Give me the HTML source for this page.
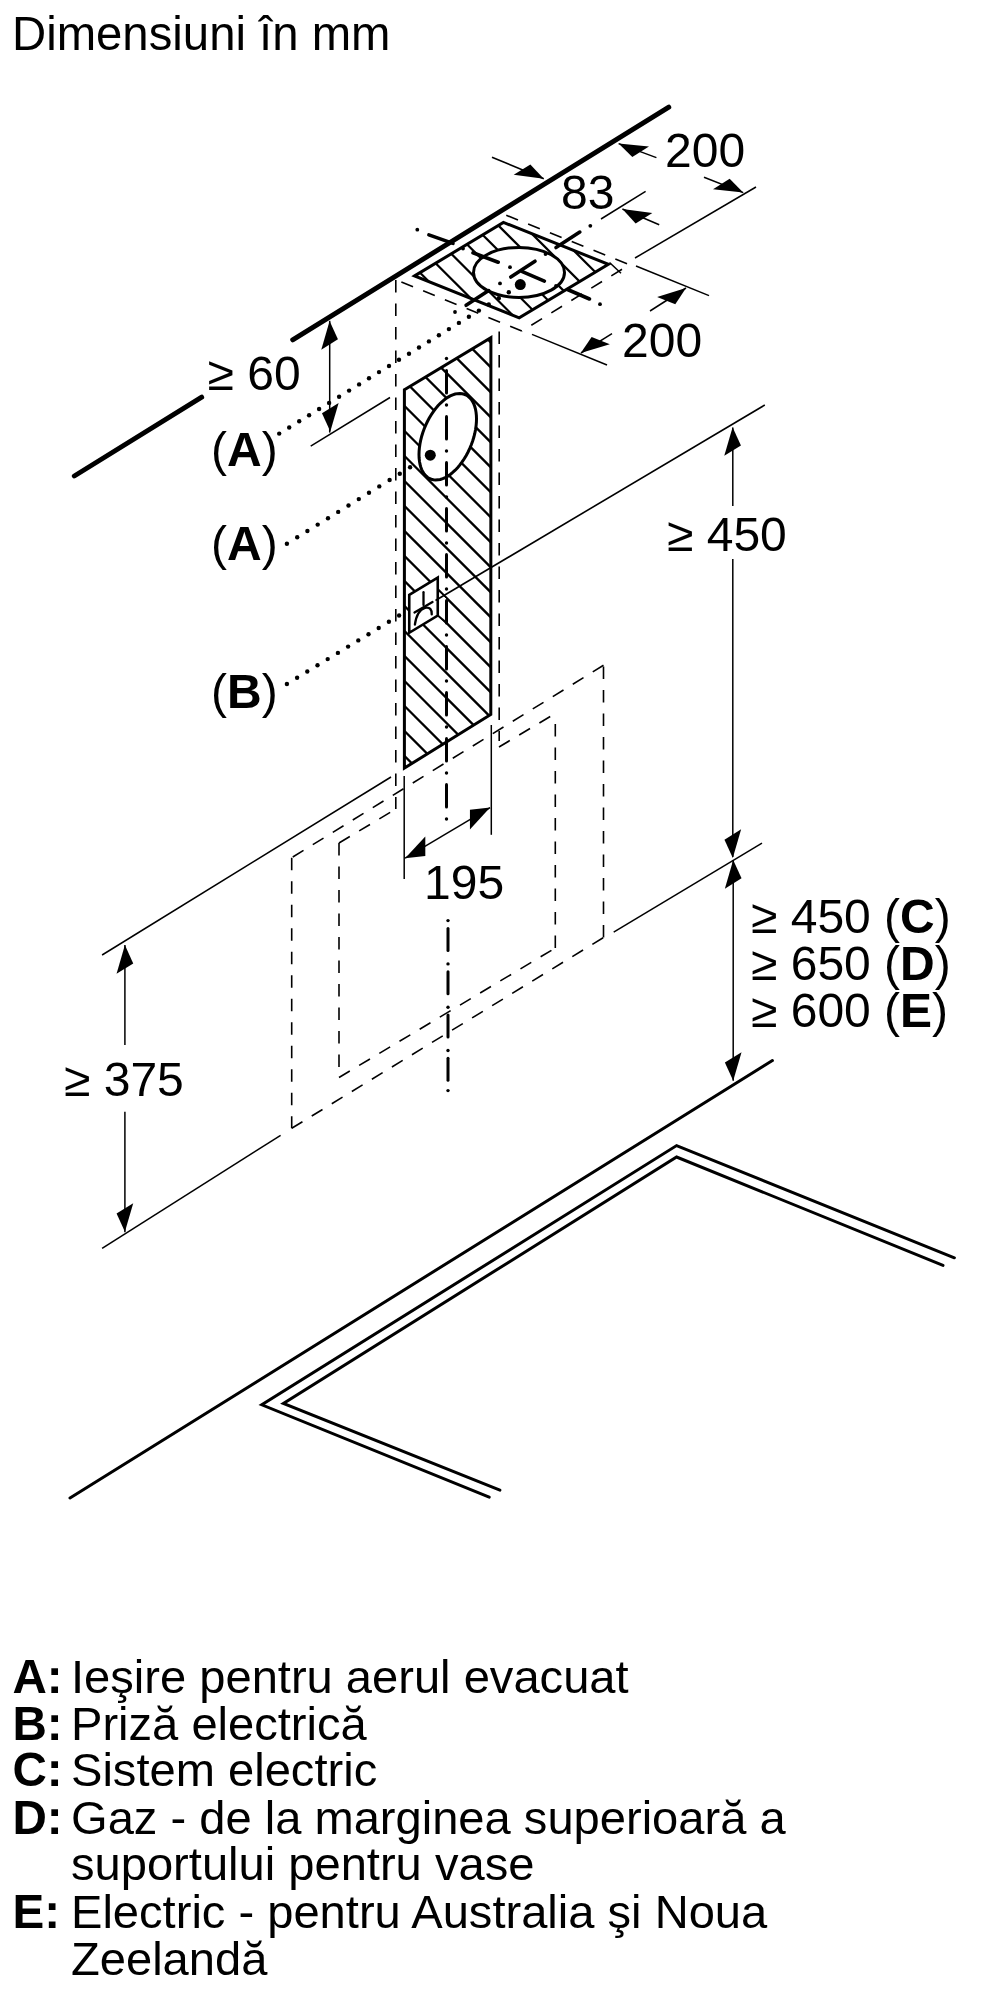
<!DOCTYPE html>
<html><head><meta charset="utf-8"><style>
html,body{margin:0;padding:0;background:#fff;width:1000px;height:2000px;overflow:hidden}
svg{display:block;will-change:transform}
text{font-family:"Liberation Sans",sans-serif;fill:#000}
</style></head><body>
<svg width="1000" height="2000" viewBox="0 0 1000 2000">
<g stroke="#000" fill="none">
<line x1="74.3" y1="476.0" x2="201.7" y2="397.2" stroke-width="4.9" stroke-linecap="round"/>
<line x1="292.7" y1="339.8" x2="668.8" y2="107.2" stroke-width="4.9" stroke-linecap="round"/>
<defs>
<mask id="mplate" maskUnits="userSpaceOnUse" x="0" y="0" width="1000" height="2000"><polygon points="414.6,275.9 503.4,222.4 608.4,264.3 519.2,317.9" fill="#fff"/><ellipse cx="519.0" cy="272.4" rx="45.5" ry="25.0" fill="#000"/></mask>
<mask id="mch" maskUnits="userSpaceOnUse" x="0" y="0" width="1000" height="2000"><polygon points="404.4,389.7 490.9,337.7 490.8,714.5 404.45,768.1" fill="#fff"/><path d="M476.50,418.93 L476.39,422.43 L476.06,426.04 L475.52,429.73 L474.77,433.48 L473.81,437.25 L472.65,441.01 L471.30,444.75 L469.77,448.42 L468.08,452.01 L466.23,455.47 L464.24,458.80 L462.12,461.96 L459.90,464.93 L457.58,467.68 L455.19,470.19 L452.74,472.46 L450.26,474.45 L447.75,476.15 L445.24,477.55 L442.76,478.65 L440.31,479.42 L437.92,479.87 L435.60,479.99 L433.38,479.78 L431.26,479.25 L429.27,478.39 L427.42,477.21 L425.73,475.73 L424.20,473.95 L422.85,471.89 L421.69,469.56 L420.73,466.98 L419.98,464.17 L419.44,461.15 L419.11,457.94 L419.00,454.57 L419.11,451.07 L419.44,447.46 L419.98,443.77 L420.73,440.02 L421.69,436.25 L422.85,432.49 L424.20,428.75 L425.73,425.08 L427.42,421.49 L429.27,418.03 L431.26,414.70 L433.38,411.54 L435.60,408.57 L437.92,405.82 L440.31,403.31 L442.76,401.04 L445.24,399.05 L447.75,397.35 L450.26,395.95 L452.74,394.85 L455.19,394.08 L457.58,393.63 L459.90,393.51 L462.12,393.72 L464.24,394.25 L466.23,395.11 L468.08,396.29 L469.77,397.77 L471.30,399.55 L472.65,401.61 L473.81,403.94 L474.77,406.52 L475.52,409.33 L476.06,412.35 L476.39,415.56Z" fill="#000"/><polygon points="409.25,594.9 437.75,577.6 437.75,591.5 446.75,599.7 446.75,623 437.75,615.5 409.25,632.75" fill="#000"/></mask>
</defs>
<g mask="url(#mplate)" stroke-width="2.2"><line x1="380" y1="232.7" x2="640" y2="492.7"/><line x1="380" y1="207.6" x2="640" y2="467.6"/><line x1="380" y1="182.5" x2="640" y2="442.5"/><line x1="380" y1="157.3" x2="640" y2="417.3"/><line x1="380" y1="132.2" x2="640" y2="392.2"/><line x1="380" y1="107.1" x2="640" y2="367.1"/><line x1="380" y1="81.9" x2="640" y2="341.9"/><line x1="380" y1="56.8" x2="640" y2="316.8"/><line x1="380" y1="31.7" x2="640" y2="291.7"/></g>
<polygon points="414.6,275.9 503.4,222.4 608.4,264.3 519.2,317.9" fill="none" stroke-width="3.0" stroke-linejoin="miter" />
<ellipse cx="519.0" cy="272.4" rx="45.5" ry="25.0" fill="none" stroke-width="3.0"/>
<line x1="428.9" y1="234.9" x2="453.0" y2="243.4" stroke-width="3.6" stroke-linecap="round"/>
<line x1="473.0" y1="252.8" x2="498.2" y2="262.2" stroke-width="3.6" stroke-linecap="round"/>
<line x1="522.3" y1="271.7" x2="544.4" y2="281.1" stroke-width="3.6" stroke-linecap="round"/>
<line x1="567.5" y1="289.5" x2="589.5" y2="299.0" stroke-width="3.6" stroke-linecap="round"/>
<circle cx="417.3" cy="229.7" r="1.9" fill="#000" stroke="none"/>
<circle cx="463.0" cy="248.6" r="1.9" fill="#000" stroke="none"/>
<circle cx="510.0" cy="267.2" r="1.9" fill="#000" stroke="none"/>
<circle cx="556.0" cy="286.0" r="1.9" fill="#000" stroke="none"/>
<circle cx="600.0" cy="304.2" r="1.9" fill="#000" stroke="none"/>
<line x1="466.1" y1="305.3" x2="488.7" y2="290.6" stroke-width="3.6" stroke-linecap="round"/>
<line x1="510.8" y1="277.0" x2="535.0" y2="261.2" stroke-width="3.6" stroke-linecap="round"/>
<line x1="556.0" y1="247.5" x2="579.8" y2="232.1" stroke-width="3.6" stroke-linecap="round"/>
<circle cx="455.0" cy="312.0" r="1.9" fill="#000" stroke="none"/>
<circle cx="500.0" cy="283.4" r="1.9" fill="#000" stroke="none"/>
<circle cx="545.5" cy="254.0" r="1.9" fill="#000" stroke="none"/>
<circle cx="590.3" cy="225.8" r="1.9" fill="#000" stroke="none"/>
<circle cx="520.3" cy="284.6" r="5.5" fill="#000" stroke="none"/>
<line x1="521.8" y1="331.1" x2="396.0" y2="279.7" stroke-width="1.6" stroke-dasharray="12.6 10.9"/>
<line x1="506.3" y1="215.3" x2="629.3" y2="264.7" stroke-width="1.6" stroke-dasharray="12.6 10.9"/>
<line x1="521.8" y1="331.1" x2="629.3" y2="264.7" stroke-width="1.6" stroke-dasharray="12.6 10.9" stroke-dashoffset="12.3"/>
<line x1="532.0" y1="334.4" x2="607.0" y2="365.0" stroke-width="1.5" />
<line x1="636.0" y1="266.0" x2="709.0" y2="295.6" stroke-width="1.5" />
<line x1="635.0" y1="258.0" x2="756.0" y2="187.0" stroke-width="1.5" />
<line x1="601.0" y1="219.0" x2="645.6" y2="191.4" stroke-width="1.5" />
<line x1="609.5" y1="262.5" x2="621.0" y2="273.3" stroke-width="1.5" />
<line x1="492.0" y1="157.2" x2="543.8" y2="178.7" stroke-width="1.5" />
<polygon points="543.75,178.70 530.37,164.54 513.71,174.87" fill="#000" stroke="none"/>
<line x1="656.4" y1="157.6" x2="618.6" y2="143.6" stroke-width="1.5" />
<polygon points="618.60,143.60 648.97,146.60 632.31,156.93" fill="#000" stroke="none"/>
<line x1="704.0" y1="177.2" x2="743.2" y2="192.6" stroke-width="1.5" />
<polygon points="743.20,192.60 729.66,178.84 713.00,189.17" fill="#000" stroke="none"/>
<line x1="659.2" y1="224.8" x2="622.4" y2="209.0" stroke-width="1.5" />
<polygon points="622.40,209.00 652.32,213.11 635.66,223.44" fill="#000" stroke="none"/>
<line x1="612.0" y1="333.6" x2="581.0" y2="353.0" stroke-width="1.5" />
<polygon points="580.75,353.00 609.81,344.25 591.62,336.97" fill="#000" stroke="none"/>
<line x1="650.0" y1="311.0" x2="686.0" y2="288.0" stroke-width="1.5" />
<polygon points="686.00,288.00 675.30,304.29 657.10,297.01" fill="#000" stroke="none"/>
<polygon points="404.4,389.7 490.9,337.7 490.8,714.5 404.45,768.1" fill="#fff" stroke="none"/>
<g mask="url(#mch)" stroke-width="2.3"><line x1="380" y1="206.5" x2="520" y2="346.5"/><line x1="380" y1="231.5" x2="520" y2="371.5"/><line x1="380" y1="256.5" x2="520" y2="396.5"/><line x1="380" y1="281.5" x2="520" y2="421.5"/><line x1="380" y1="306.5" x2="520" y2="446.5"/><line x1="380" y1="331.5" x2="520" y2="471.5"/><line x1="380" y1="356.5" x2="520" y2="496.5"/><line x1="380" y1="381.5" x2="520" y2="521.5"/><line x1="380" y1="406.5" x2="520" y2="546.5"/><line x1="380" y1="431.5" x2="520" y2="571.5"/><line x1="380" y1="456.5" x2="520" y2="596.5"/><line x1="380" y1="481.5" x2="520" y2="621.5"/><line x1="380" y1="506.5" x2="520" y2="646.5"/><line x1="380" y1="531.5" x2="520" y2="671.5"/><line x1="380" y1="556.5" x2="520" y2="696.5"/><line x1="380" y1="581.5" x2="520" y2="721.5"/><line x1="380" y1="606.5" x2="520" y2="746.5"/><line x1="380" y1="631.5" x2="520" y2="771.5"/><line x1="380" y1="656.5" x2="520" y2="796.5"/><line x1="380" y1="681.5" x2="520" y2="821.5"/><line x1="380" y1="706.5" x2="520" y2="846.5"/><line x1="380" y1="731.5" x2="520" y2="871.5"/></g>
<polygon points="404.4,389.7 490.9,337.7 490.8,714.5 404.4,768.1" fill="none" stroke-width="3.0" stroke-linejoin="miter" />
<path d="M476.50,418.93 L476.39,422.43 L476.06,426.04 L475.52,429.73 L474.77,433.48 L473.81,437.25 L472.65,441.01 L471.30,444.75 L469.77,448.42 L468.08,452.01 L466.23,455.47 L464.24,458.80 L462.12,461.96 L459.90,464.93 L457.58,467.68 L455.19,470.19 L452.74,472.46 L450.26,474.45 L447.75,476.15 L445.24,477.55 L442.76,478.65 L440.31,479.42 L437.92,479.87 L435.60,479.99 L433.38,479.78 L431.26,479.25 L429.27,478.39 L427.42,477.21 L425.73,475.73 L424.20,473.95 L422.85,471.89 L421.69,469.56 L420.73,466.98 L419.98,464.17 L419.44,461.15 L419.11,457.94 L419.00,454.57 L419.11,451.07 L419.44,447.46 L419.98,443.77 L420.73,440.02 L421.69,436.25 L422.85,432.49 L424.20,428.75 L425.73,425.08 L427.42,421.49 L429.27,418.03 L431.26,414.70 L433.38,411.54 L435.60,408.57 L437.92,405.82 L440.31,403.31 L442.76,401.04 L445.24,399.05 L447.75,397.35 L450.26,395.95 L452.74,394.85 L455.19,394.08 L457.58,393.63 L459.90,393.51 L462.12,393.72 L464.24,394.25 L466.23,395.11 L468.08,396.29 L469.77,397.77 L471.30,399.55 L472.65,401.61 L473.81,403.94 L474.77,406.52 L475.52,409.33 L476.06,412.35 L476.39,415.56Z" fill="none" stroke-width="3.0"/>
<circle cx="430.3" cy="455.2" r="5.5" fill="#000" stroke="none"/>
<polygon points="409.25,594.9 437.75,577.6 437.75,615.5 409.25,632.75" fill="none" stroke-width="2.6"/>
<line x1="437.8" y1="615.5" x2="446.8" y2="623.0" stroke-width="2.0" />
<line x1="423.5" y1="592.2" x2="423.5" y2="605.0" stroke-width="2.3" stroke-linecap="round"/>
<line x1="414.5" y1="612.5" x2="432.5" y2="602.0" stroke-width="2.3" stroke-linecap="round"/>
<path d="M414.9,624.5 C416,617 419,609.5 425,607.8 C430,606.8 431.8,609.5 431.75,614.4" fill="none" stroke-width="2.3" stroke-linecap="round"/>
<line x1="395.8" y1="280.0" x2="395.8" y2="809.0" stroke-width="1.6" stroke-dasharray="12.6 10.9"/>
<line x1="499.2" y1="331.5" x2="499.2" y2="741.0" stroke-width="1.6" stroke-dasharray="12.6 10.9"/>
<line x1="446.5" y1="370.5" x2="446.5" y2="393.0" stroke-width="3.0" stroke-linecap="round"/>
<circle cx="446.5" cy="405.0" r="1.7" fill="#000" stroke="none"/>
<line x1="446.5" y1="416.5" x2="446.5" y2="439.0" stroke-width="3.0" stroke-linecap="round"/>
<circle cx="446.5" cy="451.0" r="1.7" fill="#000" stroke="none"/>
<line x1="446.5" y1="462.5" x2="446.5" y2="485.0" stroke-width="3.0" stroke-linecap="round"/>
<circle cx="446.5" cy="497.0" r="1.7" fill="#000" stroke="none"/>
<line x1="446.5" y1="508.5" x2="446.5" y2="531.0" stroke-width="3.0" stroke-linecap="round"/>
<circle cx="446.5" cy="543.0" r="1.7" fill="#000" stroke="none"/>
<line x1="446.5" y1="554.5" x2="446.5" y2="577.0" stroke-width="3.0" stroke-linecap="round"/>
<circle cx="446.5" cy="589.0" r="1.7" fill="#000" stroke="none"/>
<line x1="446.5" y1="600.5" x2="446.5" y2="623.0" stroke-width="3.0" stroke-linecap="round"/>
<circle cx="446.5" cy="635.0" r="1.7" fill="#000" stroke="none"/>
<line x1="446.5" y1="646.5" x2="446.5" y2="669.0" stroke-width="3.0" stroke-linecap="round"/>
<circle cx="446.5" cy="681.0" r="1.7" fill="#000" stroke="none"/>
<line x1="446.5" y1="692.5" x2="446.5" y2="715.0" stroke-width="3.0" stroke-linecap="round"/>
<circle cx="446.5" cy="727.0" r="1.7" fill="#000" stroke="none"/>
<line x1="446.5" y1="738.5" x2="446.5" y2="761.0" stroke-width="3.0" stroke-linecap="round"/>
<circle cx="446.5" cy="773.0" r="1.7" fill="#000" stroke="none"/>
<line x1="446.5" y1="784.5" x2="446.5" y2="807.0" stroke-width="3.0" stroke-linecap="round"/>
<circle cx="446.5" cy="819.0" r="1.7" fill="#000" stroke="none"/>
<circle cx="446.5" cy="358.5" r="1.7" fill="#000" stroke="none"/>
<line x1="448.0" y1="928.4" x2="448.0" y2="950.4" stroke-width="3.0" stroke-linecap="round"/>
<circle cx="448.0" cy="920.6" r="1.7" fill="#000" stroke="none"/>
<line x1="448.0" y1="971.7" x2="448.0" y2="993.7" stroke-width="3.0" stroke-linecap="round"/>
<circle cx="448.0" cy="963.9" r="1.7" fill="#000" stroke="none"/>
<line x1="448.0" y1="1015.0" x2="448.0" y2="1037.0" stroke-width="3.0" stroke-linecap="round"/>
<circle cx="448.0" cy="1007.2" r="1.7" fill="#000" stroke="none"/>
<line x1="448.0" y1="1058.3" x2="448.0" y2="1080.3" stroke-width="3.0" stroke-linecap="round"/>
<circle cx="448.0" cy="1050.5" r="1.7" fill="#000" stroke="none"/>
<circle cx="448.0" cy="1090.6" r="1.7" fill="#000" stroke="none"/>
<line x1="329.7" y1="320.8" x2="329.7" y2="432.6" stroke-width="1.5" />
<polygon points="329.60,321.00 337.93,339.34 321.27,349.66" fill="#000" stroke="none"/>
<polygon points="330.30,431.60 338.63,402.94 321.97,413.26" fill="#000" stroke="none"/>
<line x1="310.7" y1="446.1" x2="390.0" y2="397.5" stroke-width="1.5" />
<circle cx="279.2" cy="433.6" r="2.2" fill="#000" stroke="none"/>
<circle cx="289.2" cy="427.5" r="2.2" fill="#000" stroke="none"/>
<circle cx="299.2" cy="421.3" r="2.2" fill="#000" stroke="none"/>
<circle cx="309.1" cy="415.2" r="2.2" fill="#000" stroke="none"/>
<circle cx="319.1" cy="409.0" r="2.2" fill="#000" stroke="none"/>
<circle cx="329.1" cy="402.9" r="2.2" fill="#000" stroke="none"/>
<circle cx="339.1" cy="396.7" r="2.2" fill="#000" stroke="none"/>
<circle cx="349.1" cy="390.6" r="2.2" fill="#000" stroke="none"/>
<circle cx="359.1" cy="384.4" r="2.2" fill="#000" stroke="none"/>
<circle cx="369.0" cy="378.3" r="2.2" fill="#000" stroke="none"/>
<circle cx="379.0" cy="372.1" r="2.2" fill="#000" stroke="none"/>
<circle cx="389.0" cy="366.0" r="2.2" fill="#000" stroke="none"/>
<circle cx="399.0" cy="359.8" r="2.2" fill="#000" stroke="none"/>
<circle cx="409.0" cy="353.7" r="2.2" fill="#000" stroke="none"/>
<circle cx="419.0" cy="347.5" r="2.2" fill="#000" stroke="none"/>
<circle cx="428.9" cy="341.4" r="2.2" fill="#000" stroke="none"/>
<circle cx="438.9" cy="335.2" r="2.2" fill="#000" stroke="none"/>
<circle cx="448.9" cy="329.1" r="2.2" fill="#000" stroke="none"/>
<circle cx="458.9" cy="322.9" r="2.2" fill="#000" stroke="none"/>
<circle cx="468.9" cy="316.8" r="2.2" fill="#000" stroke="none"/>
<circle cx="478.9" cy="310.6" r="2.2" fill="#000" stroke="none"/>
<circle cx="488.8" cy="304.5" r="2.2" fill="#000" stroke="none"/>
<circle cx="498.8" cy="298.3" r="2.2" fill="#000" stroke="none"/>
<circle cx="508.8" cy="292.2" r="2.2" fill="#000" stroke="none"/>
<circle cx="286.9" cy="543.7" r="2.2" fill="#000" stroke="none"/>
<circle cx="297.2" cy="537.3" r="2.2" fill="#000" stroke="none"/>
<circle cx="307.4" cy="531.0" r="2.2" fill="#000" stroke="none"/>
<circle cx="317.7" cy="524.6" r="2.2" fill="#000" stroke="none"/>
<circle cx="328.0" cy="518.2" r="2.2" fill="#000" stroke="none"/>
<circle cx="338.2" cy="511.9" r="2.2" fill="#000" stroke="none"/>
<circle cx="348.5" cy="505.5" r="2.2" fill="#000" stroke="none"/>
<circle cx="358.8" cy="499.1" r="2.2" fill="#000" stroke="none"/>
<circle cx="369.0" cy="492.8" r="2.2" fill="#000" stroke="none"/>
<circle cx="379.3" cy="486.4" r="2.2" fill="#000" stroke="none"/>
<circle cx="389.6" cy="480.0" r="2.2" fill="#000" stroke="none"/>
<circle cx="399.8" cy="473.7" r="2.2" fill="#000" stroke="none"/>
<circle cx="410.1" cy="467.3" r="2.2" fill="#000" stroke="none"/>
<circle cx="286.9" cy="684.0" r="2.2" fill="#000" stroke="none"/>
<circle cx="297.1" cy="677.8" r="2.2" fill="#000" stroke="none"/>
<circle cx="307.3" cy="671.5" r="2.2" fill="#000" stroke="none"/>
<circle cx="317.5" cy="665.3" r="2.2" fill="#000" stroke="none"/>
<circle cx="327.7" cy="659.1" r="2.2" fill="#000" stroke="none"/>
<circle cx="337.9" cy="652.9" r="2.2" fill="#000" stroke="none"/>
<circle cx="348.1" cy="646.6" r="2.2" fill="#000" stroke="none"/>
<circle cx="358.3" cy="640.4" r="2.2" fill="#000" stroke="none"/>
<circle cx="368.5" cy="634.2" r="2.2" fill="#000" stroke="none"/>
<circle cx="378.7" cy="628.0" r="2.2" fill="#000" stroke="none"/>
<circle cx="388.9" cy="621.7" r="2.2" fill="#000" stroke="none"/>
<circle cx="399.1" cy="615.5" r="2.2" fill="#000" stroke="none"/>
<line x1="435.5" y1="600.5" x2="764.8" y2="405.0" stroke-width="1.6" />
<line x1="732.8" y1="427.4" x2="732.8" y2="506.0" stroke-width="1.5" />
<line x1="732.8" y1="559.0" x2="732.8" y2="857.0" stroke-width="1.5" />
<polygon points="732.60,427.20 740.93,445.54 724.27,455.86" fill="#000" stroke="none"/>
<polygon points="732.80,858.00 741.13,829.34 724.47,839.66" fill="#000" stroke="none"/>
<polygon points="733.20,860.00 741.53,878.34 724.87,888.66" fill="#000" stroke="none"/>
<line x1="613.7" y1="932.1" x2="762.0" y2="843.2" stroke-width="1.5" />
<line x1="733.2" y1="860.0" x2="733.2" y2="1080.8" stroke-width="1.5" />
<polygon points="733.20,1080.80 741.53,1052.14 724.87,1062.46" fill="#000" stroke="none"/>
<line x1="603.5" y1="665.3" x2="291.7" y2="857.7" stroke-width="1.6" stroke-dasharray="12.6 10.9"/>
<line x1="291.7" y1="857.7" x2="291.7" y2="1128.3" stroke-width="1.6" stroke-dasharray="12.6 10.9"/>
<line x1="291.7" y1="1128.3" x2="603.5" y2="937.5" stroke-width="1.6" stroke-dasharray="12.6 10.9"/>
<line x1="603.5" y1="937.5" x2="603.5" y2="665.3" stroke-width="1.6" stroke-dasharray="12.6 10.9"/>
<line x1="339.0" y1="843.0" x2="395.0" y2="809.5" stroke-width="1.6" stroke-dasharray="12.6 10.9"/>
<line x1="499.0" y1="747.0" x2="555.3" y2="713.5" stroke-width="1.6" stroke-dasharray="12.6 10.9"/>
<line x1="339.0" y1="843.0" x2="339.0" y2="1077.5" stroke-width="1.6" stroke-dasharray="12.6 10.9"/>
<line x1="339.0" y1="1077.5" x2="555.3" y2="948.0" stroke-width="1.6" stroke-dasharray="12.6 10.9"/>
<line x1="555.3" y1="948.0" x2="555.3" y2="713.5" stroke-width="1.6" stroke-dasharray="12.6 10.9"/>
<line x1="404.2" y1="776.1" x2="404.2" y2="879.0" stroke-width="1.5" />
<line x1="491.3" y1="725.0" x2="491.3" y2="834.8" stroke-width="1.5" />
<line x1="405.1" y1="858.2" x2="490.1" y2="807.6" stroke-width="1.5" />
<polygon points="405.10,858.20 425.29,855.98 425.29,836.38" fill="#000" stroke="none"/>
<polygon points="490.10,807.60 469.91,829.42 469.91,809.82" fill="#000" stroke="none"/>
<line x1="102.1" y1="955.0" x2="391.0" y2="777.0" stroke-width="1.5" />
<line x1="124.9" y1="945.1" x2="124.9" y2="1045.0" stroke-width="1.5" />
<line x1="124.9" y1="1111.7" x2="124.9" y2="1232.3" stroke-width="1.5" />
<polygon points="124.90,945.10 133.23,963.44 116.57,973.76" fill="#000" stroke="none"/>
<polygon points="124.90,1231.80 133.23,1203.14 116.57,1213.46" fill="#000" stroke="none"/>
<line x1="102.1" y1="1248.3" x2="280.6" y2="1135.4" stroke-width="1.5" />
<line x1="70.0" y1="1498.0" x2="772.4" y2="1060.6" stroke-width="3" stroke-linecap="round"/>
<polyline points="489.2,1497.2 261.8,1404.8 676.6,1145.6 954.4,1257.8" fill="none" stroke-width="3" stroke-linecap="round"/>
<polyline points="499.9,1490.2 283.4,1403.4 676.6,1157 943,1265.4" fill="none" stroke-width="3" stroke-linecap="round"/>
</g>
<g>
<text x="12.0" y="50.0" font-size="47.3" font-weight="normal">Dimensiuni în mm</text>
<text x="665.0" y="166.5" font-size="48" font-weight="normal">200</text>
<text x="561.0" y="209.0" font-size="48" font-weight="normal">83</text>
<text x="622.0" y="356.5" font-size="48" font-weight="normal">200</text>
<text x="207.5" y="389.5" font-size="48" font-weight="normal">≥ 60</text>
<text x="211.0" y="466.0" font-size="48" font-weight="normal">(<tspan font-weight="bold">A</tspan>)</text>
<text x="211.0" y="560.0" font-size="48" font-weight="normal">(<tspan font-weight="bold">A</tspan>)</text>
<text x="211.0" y="708.0" font-size="48" font-weight="normal">(<tspan font-weight="bold">B</tspan>)</text>
<text x="667.0" y="550.5" font-size="48" font-weight="normal">≥ 450</text>
<text x="424.0" y="898.5" font-size="48" font-weight="normal">195</text>
<text x="751.0" y="932.5" font-size="48" font-weight="normal">≥ 450 (<tspan font-weight="bold">C</tspan>)</text>
<text x="751.0" y="980.0" font-size="48" font-weight="normal">≥ 650 (<tspan font-weight="bold">D</tspan>)</text>
<text x="751.0" y="1026.5" font-size="48" font-weight="normal">≥ 600 (<tspan font-weight="bold">E</tspan>)</text>
<text x="64.0" y="1096.0" font-size="48" font-weight="normal">≥ 375</text>
<text x="12.5" y="1692.5" font-size="47.6" font-weight="bold">A:</text>
<text x="71.0" y="1692.5" font-size="47.1" font-weight="normal">Ieşire pentru aerul evacuat</text>
<text x="12.5" y="1739.5" font-size="47.6" font-weight="bold">B:</text>
<text x="71.0" y="1739.5" font-size="47.1" font-weight="normal">Priză electrică</text>
<text x="12.5" y="1786.0" font-size="47.6" font-weight="bold">C:</text>
<text x="71.0" y="1786.0" font-size="47.1" font-weight="normal">Sistem electric</text>
<text x="12.5" y="1833.5" font-size="47.6" font-weight="bold">D:</text>
<text x="71.0" y="1833.5" font-size="47.1" font-weight="normal">Gaz - de la marginea superioară a</text>
<text x="71.0" y="1880.0" font-size="47.1" font-weight="normal">suportului pentru vase</text>
<text x="12.5" y="1927.5" font-size="47.6" font-weight="bold">E:</text>
<text x="71.0" y="1927.5" font-size="47.1" font-weight="normal">Electric - pentru Australia şi Noua</text>
<text x="71.0" y="1974.5" font-size="47.1" font-weight="normal">Zeelandă</text>
</g>
</svg></body></html>
